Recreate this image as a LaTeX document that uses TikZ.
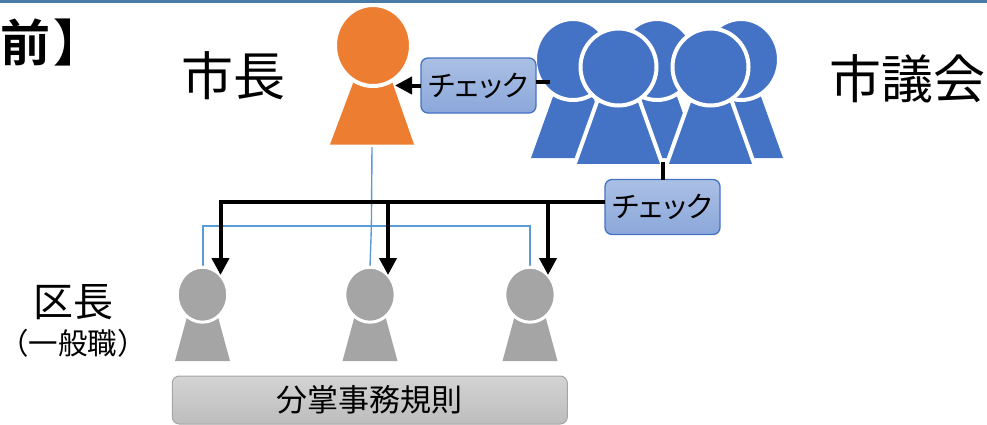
\documentclass[tikz,border=0pt]{standalone}
\usepackage{fontspec}
\setmainfont{Noto Sans CJK JP}[BoldFont={Noto Sans CJK JP Bold}]
\newfontfamily\propfont{Noto Sans CJK JP}[RawFeature=+palt]
\usetikzlibrary{arrows.meta,shapes.geometric}
\definecolor{topband}{HTML}{4A7BA6}
\definecolor{mayorc}{HTML}{ED7D31}
\definecolor{councilc}{HTML}{4472C4}
\definecolor{wardc}{HTML}{A5A5A5}
\definecolor{bluelink}{HTML}{5B9BD5}
\newcommand{\fsz}[1]{\fontsize{#1}{#1}\selectfont}
\tikzset{
  x=1pt,y=-1pt,
  bigtext/.style={font=\fsz{52},inner sep=0pt,outer sep=0pt},
  checkbox/.style={rounded corners=7pt,draw=councilc,line width=1.3pt,top color=councilc!45!white,bottom color=councilc!62!white,
    minimum width=115pt,minimum height=55pt,inner sep=0pt,outer sep=0pt,font=\propfont\fsz{29}},
  rulebox/.style={rounded corners=7pt,draw=wardc,line width=1pt,top color=black!17,bottom color=black!26,
    minimum width=395pt,minimum height=48pt,inner sep=0pt,outer sep=0pt,font=\fsz{31}},
  headnode/.style={ellipse,inner sep=0pt,outer sep=0pt,draw=white},
  blackline/.style={draw=black,line width=4pt},
  blackarrow/.style={draw=black,line width=4pt,-{Triangle[length=17pt,width=17pt]}},
  bluelinkline/.style={draw=bluelink,line width=1.4pt},
}
\begin{document}
\begin{tikzpicture}
\useasboundingbox (0,0) rectangle (987,424);
\clip (0,0) rectangle (987,424);
\fill[topband] (0,0) rectangle (987,2.6);

% Titles
\node[anchor=west,inner sep=0pt,font=\fsz{50}\bfseries] (title) at (0,42) {前\hspace{3pt}】};
\node[bigtext] (lblmayor) at (233,76) {市長};
\node[bigtext] (lblcouncil) at (907,78.5) {市議会};
\node[inner sep=0pt,font=\fsz{40}] (lblward) at (73.5,302) {区長};
\node[inner sep=0pt,font=\fsz{29.5}] (lblgen) at (73,343.5) {（一般職）};

% Coordinates for connector ends
\coordinate (mayorfoot) at (372,147);
\coordinate (bluejoin) at (371.4,226);
\coordinate (wardAtop) at (203,267);
\coordinate (wardBtop) at (370,267);
\coordinate (wardCtop) at (530,267);
\coordinate (bluecornerA) at (203,226);
\coordinate (bluecornerC) at (530,226);
\coordinate (arrowA) at (220.5,275);
\coordinate (arrowB) at (388,275);
\coordinate (arrowC) at (548,275);
\coordinate (cornerA) at (220.5,201.5);
\coordinate (branchB) at (388,201.5);
\coordinate (branchC) at (548,201.5);
\coordinate (mayorarrow) at (395,85.5);
\coordinate (stubstart) at (536,82);
\coordinate (stubend) at (550,82);
\coordinate (councilfoot) at (663,162);

% Blue reporting lines
\draw[bluelinkline] (mayorfoot) -- (bluejoin) -- (wardBtop);
\draw[bluelinkline] (wardAtop) -- (bluecornerA) -- (bluecornerC) -- (wardCtop);

% Mayor
\fill[mayorc] (330,144.5) -- (358,70) -- (388,70) -- (414,144.5) -- cycle;
\node[headnode,fill=mayorc,line width=4pt,minimum width=76pt,minimum height=81pt] (mayorhead) at (373,45.5) {};

% Council: back row
\fill[councilc] (531,158) -- (559,80) -- (587,80) -- (615,158) -- cycle;
\node[headnode,fill=councilc,line width=4pt,minimum width=76pt,minimum height=81pt] (backheadA) at (573,59.5) {};
\fill[councilc] (615,158) -- (643,80) -- (671,80) -- (699,158) -- cycle;
\node[headnode,fill=councilc,line width=4pt,minimum width=76pt,minimum height=81pt] (backheadB) at (657,59.5) {};
\fill[councilc] (699,158) -- (727,80) -- (755,80) -- (783,158) -- cycle;
\node[headnode,fill=councilc,line width=4pt,minimum width=76pt,minimum height=81pt] (backheadC) at (741,59.5) {};

% Council: front row
\filldraw[councilc,draw=white,line width=4pt] (574,166) -- (603,85) -- (634,85) -- (663,166) -- cycle;
\node[headnode,fill=councilc,line width=4pt,minimum width=76pt,minimum height=77pt] (frontheadA) at (618.5,67) {};
\filldraw[councilc,draw=white,line width=4pt] (666,166) -- (695,85) -- (726,85) -- (755,166) -- cycle;
\node[headnode,fill=councilc,line width=4pt,minimum width=76pt,minimum height=77pt] (frontheadB) at (710.5,67) {};

% Ward heads
\foreach \nm/\cx in {A/202.5,B/370,C/530}{
  \fill[wardc] (\cx-27.5,361) -- (\cx-15,315) -- (\cx+15,315) -- (\cx+27.5,361) -- cycle;
  \node[headnode,fill=wardc,line width=3pt,minimum width=50.5pt,minimum height=55pt] (wardhead\nm) at (\cx,294.7) {};
}

% Check boxes
\node[checkbox] (checkA) at (478.5,85.5) {チェック};
\node[checkbox] (checkB) at (662.5,207) {チェック};

% Black connectors
\draw[blackarrow] (checkA.west) -- (mayorarrow);
\draw[blackline] (stubstart) -- (stubend);
\draw[blackline] (councilfoot) -- (checkB.north -| councilfoot);
\draw[blackarrow] (checkB.west |- cornerA) -- (cornerA) -- (arrowA);
\draw[blackarrow] (branchB) -- (arrowB);
\draw[blackarrow] (branchC) -- (arrowC);

% Rule box
\node[rulebox] (rules) at (369.8,400) {分掌事務規則};
\end{tikzpicture}
\end{document}
